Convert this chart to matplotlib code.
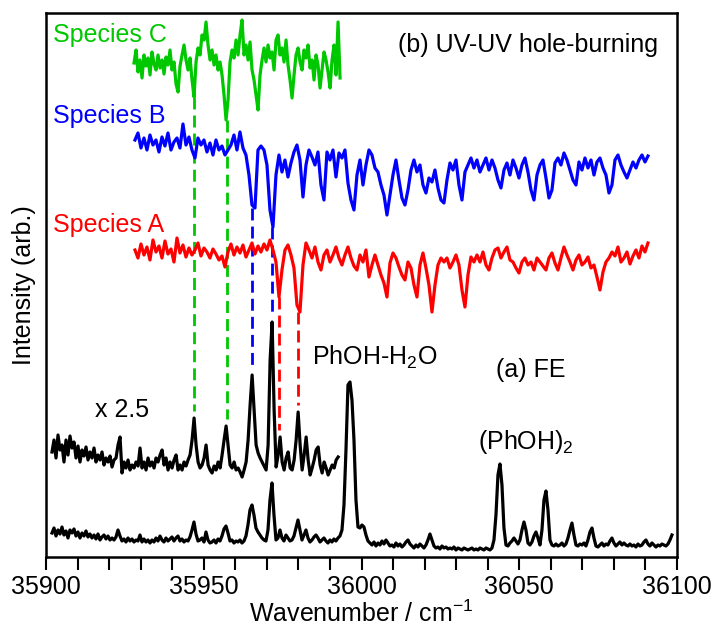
import numpy as np
import matplotlib
matplotlib.use("Agg")
import matplotlib.pyplot as plt
from matplotlib.ticker import MultipleLocator, NullLocator

plt.rcParams['font.family'] = ['Liberation Sans', 'DejaVu Sans']
plt.rcParams['mathtext.fontset'] = 'custom'
plt.rcParams['mathtext.rm'] = 'Liberation Sans'
plt.rcParams['mathtext.default'] = 'regular'

# scan ranges (cm-1), points are evenly spaced inside each range
range_c = (35927.9, 35993.2)
range_b = (35928.2, 36090.8)
range_a = (35928.2, 36090.8)
range_fe_x25 = (35901.9, 35992.6)
range_fe = (35901.9, 36098.4)

# (b) UV-UV hole-burning spectra, arb. units relative to each baseline
species_c = [0, 13, -9, 3, -15, 8, -3, 5, -12, 11,
             -1, -7, 8, -5, 3, -11, 6, -2, 13, -7,
             1, -21, -29, -3, 8, 18, 3, -7, 5, -17,
             -34, 1, 15, 8, 28, 23, 41, 18, 3, 13,
             -2, 8, -7, 1, -12, -32, -57, -37, 1, 13,
             5, 23, 8, 28, 43, 8, 18, 3, 21, -7,
             -17, -32, -47, -12, 3, 15, 1, 18, 5, 11,
             -7, 23, 28, 8, 15, 1, 23, -2, -17, -35,
             -12, 8, 15, 1, -7, 13, 5, 18, -5, 3,
             -17, 8, -2, -25, -7, 11, 3, -9, -25, 3,
             18, -12, 41, -15]

species_b = [10, 17, 2, 12, 0, 15, 5, 10, -2, 13,
             4, 17, 0, 8, 12, 2, 26, 5, 13, 0,
             -8, 12, 5, 10, -2, 7, -5, 10, 0, 4,
             -5, 0, 5, 15, 0, 18, 2, -5, -25, -55,
             -58, 0, 4, 0, -15, -60, -77, -25, -5, -22,
             -10, -27, -13, -2, 5, -10, -47, -15, 0, -7,
             -15, -2, -35, -50, -2, -10, 0, -27, -3, -8,
             0, -33, -50, -60, -25, -10, -35, -15, 0, -5,
             -18, -22, -35, -45, -65, -45, -25, -10, -30, -48,
             -55, -40, -20, -10, -22, -15, -35, -43, -28, -32,
             -20, -38, -50, -53, -30, -13, -20, -10, -35, -50,
             -22, -15, -8, -18, -10, -22, -15, -8, -20, -10,
             -18, -30, -38, -20, -13, -25, -10, -18, -28, -15,
             -8, -22, -40, -50, -25, -15, -10, -28, -48, -40,
             -13, -8, -15, -3, -10, -20, -30, -35, -12, -20,
             -8, -18, -10, -25, -12, -8, -18, -25, -43, -35,
             -10, -5, -15, -22, -28, -20, -12, -18, -10, -5,
             -12, -6]

species_a = [0, -8, 6, -5, 3, -10, 10, -2, 4, -8,
             9, -4, 1, -12, 12, -3, 5, -7, 2, -5,
             0, 7, -6, 2, -2, -8, 1, -4, -10, -6,
             -17, -2, 6, -5, 3, -3, 5, -7, 0, 7,
             -4, 4, -2, 6, 0, 10, 0, -12, -47, -20,
             0, 5, -5, -18, -55, -62, -15, 7, 0, -8,
             3, -12, -20, -5, 0, -12, -5, 3, -8, -15,
             -5, 3, -8, -16, -20, -5, -12, 0, -27, -15,
             -5, -15, -25, -33, -47, -13, -3, -8, -17, -25,
             -30, -12, -18, -35, -47, -15, -3, -18, -35, -62,
             -35, -15, -8, -12, -8, -18, -12, -5, -15, -40,
             -57, -25, -7, -12, -5, -12, -2, -15, -20, -8,
             0, 2, -8, -2, 3, -10, -12, -18, -23, -12,
             -8, -15, -12, -20, -8, -12, -16, -20, -8, -3,
             -13, -20, -8, 3, -5, -12, -20, -10, -5, -15,
             -12, -7, -18, -15, -27, -40, -22, -12, -8, -2,
             -6, 3, -12, -8, -2, -14, -6, 0, -8, 4,
             -2, 7]

# (a) fluorescence excitation, expanded x2.5 part
fe_x25 = [13, 25, 7, 30, 15, 20, 3, 25, 10, 29,
          17, 23, 7, 19, 3, 15, 9, 18, 5, 13,
          7, 17, 3, 10, 5, 13, 0, 7, 3, 9,
          -2, 5, 7, 20, 28, -8, 3, -3, 5, -5,
          0, -3, 3, -1, 17, -3, 3, -5, 7, -1,
          3, -3, 7, 3, 10, 15, 0, 7, -5, 3,
          -3, 5, 10, -5, 0, -5, 3, -1, 5, 10,
          25, 47, 20, 3, -3, 0, 7, 20, 0, -5,
          -8, -1, -5, 3, -3, 10, 25, 39, 20, 0,
          -3, 3, -5, -3, -7, -12, -5, 3, 25, 60,
          90, 55, 20, 12, 7, 3, -1, -5, 20, 105,
          143, 55, -2, 10, 28, 3, -5, 7, 13, -3,
          -5, 5, 25, 53, 20, -5, 10, 28, 5, -10,
          -3, 5, 15, 18, 0, -8, 3, -3, -10, -5,
          0, -3, 5, 8]

# (a) fluorescence excitation, full scan
fe = [12, 17, 9, 15, 11, 18, 10, 14, 7, 15,
      12, 16, 9, 13, 7, 12, 9, 14, 8, 11,
      7, 10, 6, 11, 5, 8, 10, 6, 9, 5,
      7, 5, 8, 15, 9, 4, 6, 3, 7, 4,
      6, 3, 5, 4, 10, 3, 6, 3, 5, 2,
      5, 3, 7, 4, 9, 5, 3, 7, 4, 6,
      8, 4, 7, 9, 4, 6, 3, 5, 4, 8,
      15, 23, 11, 4, 5, 7, 3, 13, 5, 2,
      3, 5, 2, 6, 4, 9, 16, 19, 12, 4,
      5, 2, 4, 3, 5, 2, 4, 9, 20, 35,
      40, 30, 17, 13, 10, 7, 5, 4, 15, 45,
      62, 30, 5, 7, 15, 7, 4, 10, 7, 4,
      5, 9, 17, 25, 15, 5, 10, 15, 7, 3,
      5, 8, 10, 7, 3, 5, 7, 4, 2, 5,
      3, 6, 4, 7, 9, 15, 40, 95, 160, 163,
      145, 105, 45, 18, 17, 20, 18, 10, 4, 2,
      0, 3, -1, 2, 0, 4, 1, 5, 2, -1,
      0, -2, 2, -1, 1, -2, 0, 3, 5, 1,
      -1, -3, 0, -2, 1, -1, -3, 0, 5, 11,
      5, -1, -3, -2, -4, -1, -3, -2, -4, -3,
      -4, -2, -5, -3, -4, -5, -3, -4, -5, -4,
      -3, -5, -4, -5, -3, -4, -5, -3, -4, -5,
      -3, 5, 30, 70, 81, 60, 17, 0, -1, 2,
      4, 7, 4, 1, 5, 15, 23, 15, 2, 0,
      3, 9, 13, 7, 0, 15, 45, 54, 35, 5,
      0, -1, 1, -1, 0, 2, -1, 1, 7, 15,
      22, 10, 0, -1, 1, 0, 2, -1, 5, 13,
      17, 7, -1, -2, 0, 2, -1, 1, 0, 4,
      7, 2, -1, 1, 3, 0, 2, 0, -1, 1,
      -1, 0, -2, 1, -1, 0, 3, 5, 1, -1,
      2, 0, -2, 0, -1, 1, 0, -1, 1, 5,
      10]

# band positions linking hole-burning dips to FE peaks (cm-1)
bands_c = [35946.9, 35957.5]
bands_b = [35965.4, 35971.5]
bands_a = [35973.9, 35980.0]

green = '#00c800'
blue = '#0000ff'
red = '#ff0000'

# vertical stacking of the traces
offset_c, offset_b, offset_a, offset_x25, offset_fe = 494, 407, 307, 92, 12

fig = plt.figure(figsize=(7.16, 6.26), dpi=100)
ax = fig.add_axes([46 / 716, 69 / 626, 631 / 716, 544 / 626])

def grid(rng, vals):
    return np.linspace(rng[0], rng[1], len(vals))

x_c, x_b, x_a = grid(range_c, species_c), grid(range_b, species_b), grid(range_a, species_a)
x_x25, x_fe = grid(range_fe_x25, fe_x25), grid(range_fe, fe)
y_c = np.array(species_c) + offset_c
y_b = np.array(species_b) + offset_b
y_a = np.array(species_a) + offset_a
y_x25 = np.array(fe_x25) + offset_x25
y_fe = np.array(fe) + offset_fe

lw = 2.3
ax.plot(x_fe, y_fe, color='black', lw=lw, zorder=3)
ax.plot(x_x25, y_x25, color='black', lw=lw, zorder=3)
ax.plot(x_a, y_a, color=red, lw=lw, zorder=3)
ax.plot(x_b, y_b, color=blue, lw=lw, zorder=3)
ax.plot(x_c, y_c, color=green, lw=lw, zorder=3)

# dashed connectors: from the hole-burning dip down to just above the FE peak
def connect(bands, xs, ys, color):
    for b in bands:
        near = np.abs(xs - b) < 1.2
        top = ys[near].min()
        near2 = np.abs(x_x25 - b) < 1.2
        bottom = y_x25[near2].max() + 7
        ax.plot([b, b], [top, bottom], color=color, lw=2.0,
                linestyle=(0, (4.3, 2.2)), zorder=2)

connect(bands_c, x_c, y_c, green)
connect(bands_b, x_b, y_b, blue)
connect(bands_a, x_a, y_a, red)

fs = 18
ax.text(35902.2, 515, 'Species C', color=green, fontsize=fs, ha='left', va='baseline')
ax.text(35902.2, 434, 'Species B', color=blue, fontsize=fs, ha='left', va='baseline')
ax.text(35902.2, 325, 'Species A', color=red, fontsize=fs, ha='left', va='baseline')
ax.text(36094.0, 505, '(b) UV-UV hole-burning', fontsize=fs, ha='right', va='baseline')
ax.text(35984.3, 192, 'PhOH-H$_2$O', fontsize=fs, ha='left', va='baseline')
ax.text(36042.6, 180, '(a) FE', fontsize=fs, ha='left', va='baseline')
ax.text(36036.9, 108, '(PhOH)$_2$', fontsize=fs, ha='left', va='baseline')
ax.text(35915.5, 140, 'x 2.5', fontsize=fs, ha='left', va='baseline')

ax.set_xlim(35900, 36100)
ax.set_ylim(0, 544)
ax.xaxis.set_major_locator(MultipleLocator(50))
ax.xaxis.set_minor_locator(MultipleLocator(10))
ax.yaxis.set_major_locator(NullLocator())
ax.tick_params(axis='x', which='both', direction='out', length=9, width=1.5,
               labelsize=fs, pad=4)
for s in ax.spines.values():
    s.set_linewidth(1.8)

ax.set_xlabel('Wavenumber / cm$^{-1}$', fontsize=fs, labelpad=1)
ax.set_ylabel('Intensity (arb.)', fontsize=fs, labelpad=7)

fig.savefig('out.png', dpi=100)
